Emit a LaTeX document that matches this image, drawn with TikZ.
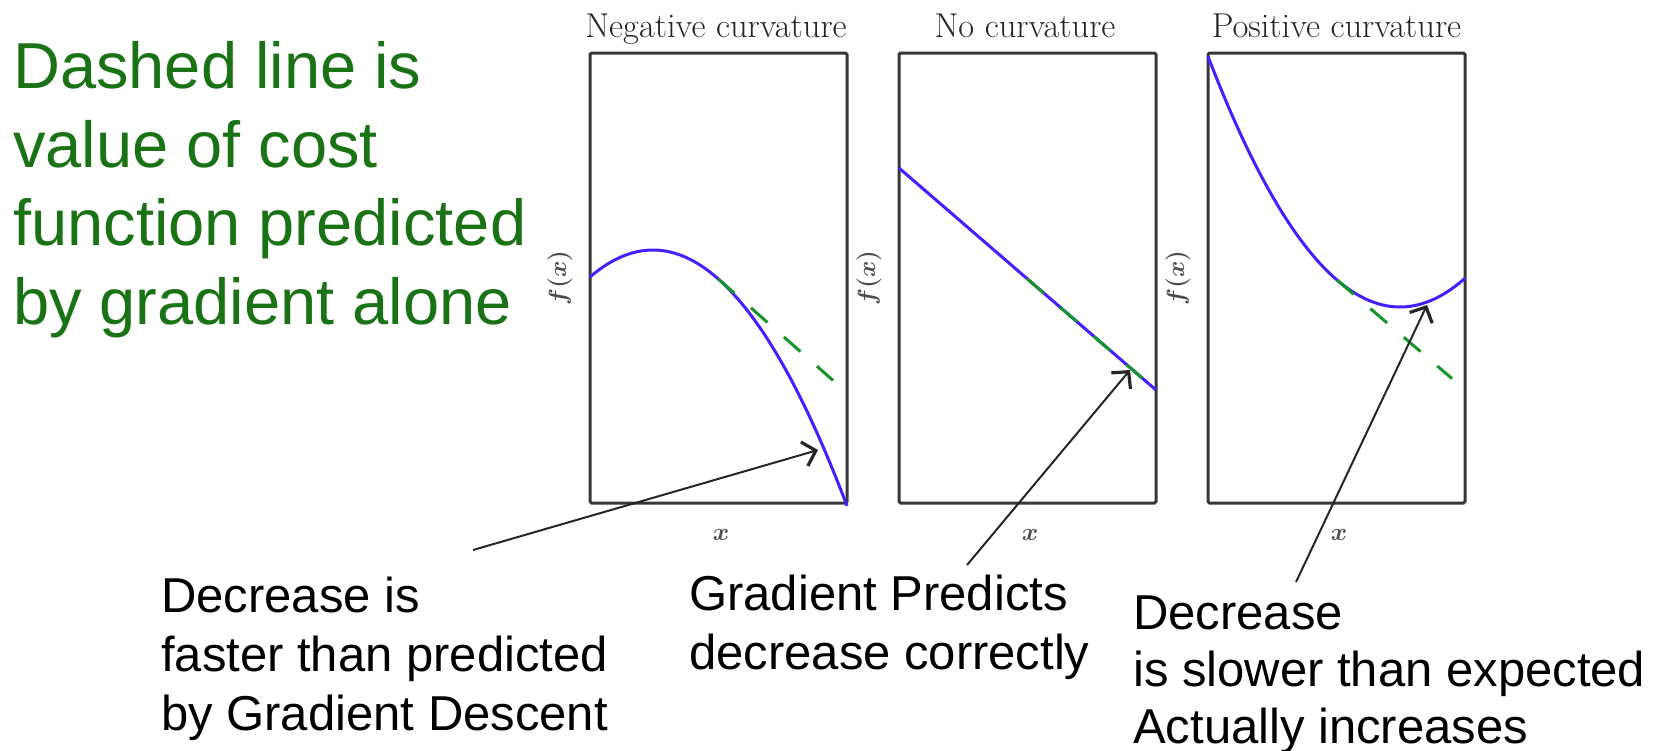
\documentclass[tikz,border=0pt]{standalone}
\usepackage{fontspec}
\setsansfont{Liberation Sans}
\usetikzlibrary{arrows.meta}
\definecolor{curveblue}{RGB}{70,30,255}
\definecolor{tangreen}{RGB}{20,150,40}
\definecolor{notegreen}{RGB}{25,115,20}
\definecolor{framegray}{RGB}{55,55,55}
\begin{document}
\begin{tikzpicture}[x=1pt,y=-1pt,
  panel/.style={draw=framegray, line width=3pt, rounded corners=1.5pt, minimum width=257pt, minimum height=450pt, inner sep=0pt},
  ptitle/.style={font=\fontsize{34.5}{38}\selectfont, text=black!85, anchor=base, inner sep=0pt},
  flabel/.style={font=\boldmath\fontsize{33}{36}\selectfont, text=black!70, rotate=90},
  xlabel/.style={font=\boldmath\fontsize{33}{36}\selectfont, text=black!70},
  fcurve/.style={draw=curveblue, line width=3pt},
  tangent/.style={draw=tangreen, line width=3pt, dash pattern=on 22pt off 22pt},
  note/.style={font=\sffamily\fontsize{49}{59}\selectfont, align=left, anchor=base west, inner sep=0pt},
  bignote/.style={font=\sffamily\fontsize{65}{78.5}\selectfont, text=notegreen, align=left, anchor=base west, inner sep=0pt},
  pointer/.style={draw=black!85, line width=2pt, -{Straight Barb[length=12pt,width=25pt,line width=3.2pt]}}]
\useasboundingbox (0,0) rectangle (1657,750);

% green note (anchor = baseline of last line)
\node[bignote] (lead) at (13,324) {Dashed line is\\value of cost\\function predicted\\by gradient alone};

% panels
\node[panel] (p1) at (718.5,278) {};
\node[panel] (p2) at (1027.5,278) {};
\node[panel] (p3) at (1336.5,278) {};

\node[ptitle] (t1) at (716,37) {Negative curvature};
\node[ptitle] (t2) at (1025,37) {No curvature};
\node[ptitle] (t3) at (1336.5,37) {Positive curvature};

\node[flabel] (f1) at (560,278) {$f(x)$};
\node[flabel] (f2) at (869,278) {$f(x)$};
\node[flabel] (f3) at (1178,278) {$f(x)$};

\node[xlabel] (x1) at (721,535) {$x$};
\node[xlabel] (x2) at (1030,535) {$x$};
\node[xlabel] (x3) at (1339,535) {$x$};

% curves
\draw[fcurve] plot[domain=590:847, samples=80, smooth] (\x, {250+(0.08246*(\x-653))^2});
\draw[tangent] (718,278.7) -- (833,380.4);

\draw[fcurve] (899,168) -- (1156,390);
\draw[tangent] (1027,278.6) -- (1142,378);

\draw[fcurve] plot[domain=1208:1465, samples=80, smooth] (\x, {307-(0.08246*(\x-1400))^2});
\draw[tangent] (1337,280) -- (1452,378.6);

% bottom notes (anchor = baseline of last line)
\node[note] (n1) at (161,730) {Decrease is\\faster than predicted\\by Gradient Descent};
\node[note] (n2) at (689,669) {Gradient Predicts\\decrease correctly};
\node[note, font=\sffamily\fontsize{49}{57}\selectfont] (n3) at (1133,743) {Decrease\\is slower than expected\\Actually increases};

% arrows
\coordinate (s1) at (473,550);
\coordinate (e1) at (818,450);
\coordinate (s2) at (967,565);
\coordinate (e2) at (1130,370);
\coordinate (s3) at (1296,582);
\coordinate (e3) at (1427,305);
\draw[pointer] (s1) -- (e1);
\draw[pointer] (s2) -- (e2);
\draw[pointer] (s3) -- (e3);
\end{tikzpicture}
\end{document}
